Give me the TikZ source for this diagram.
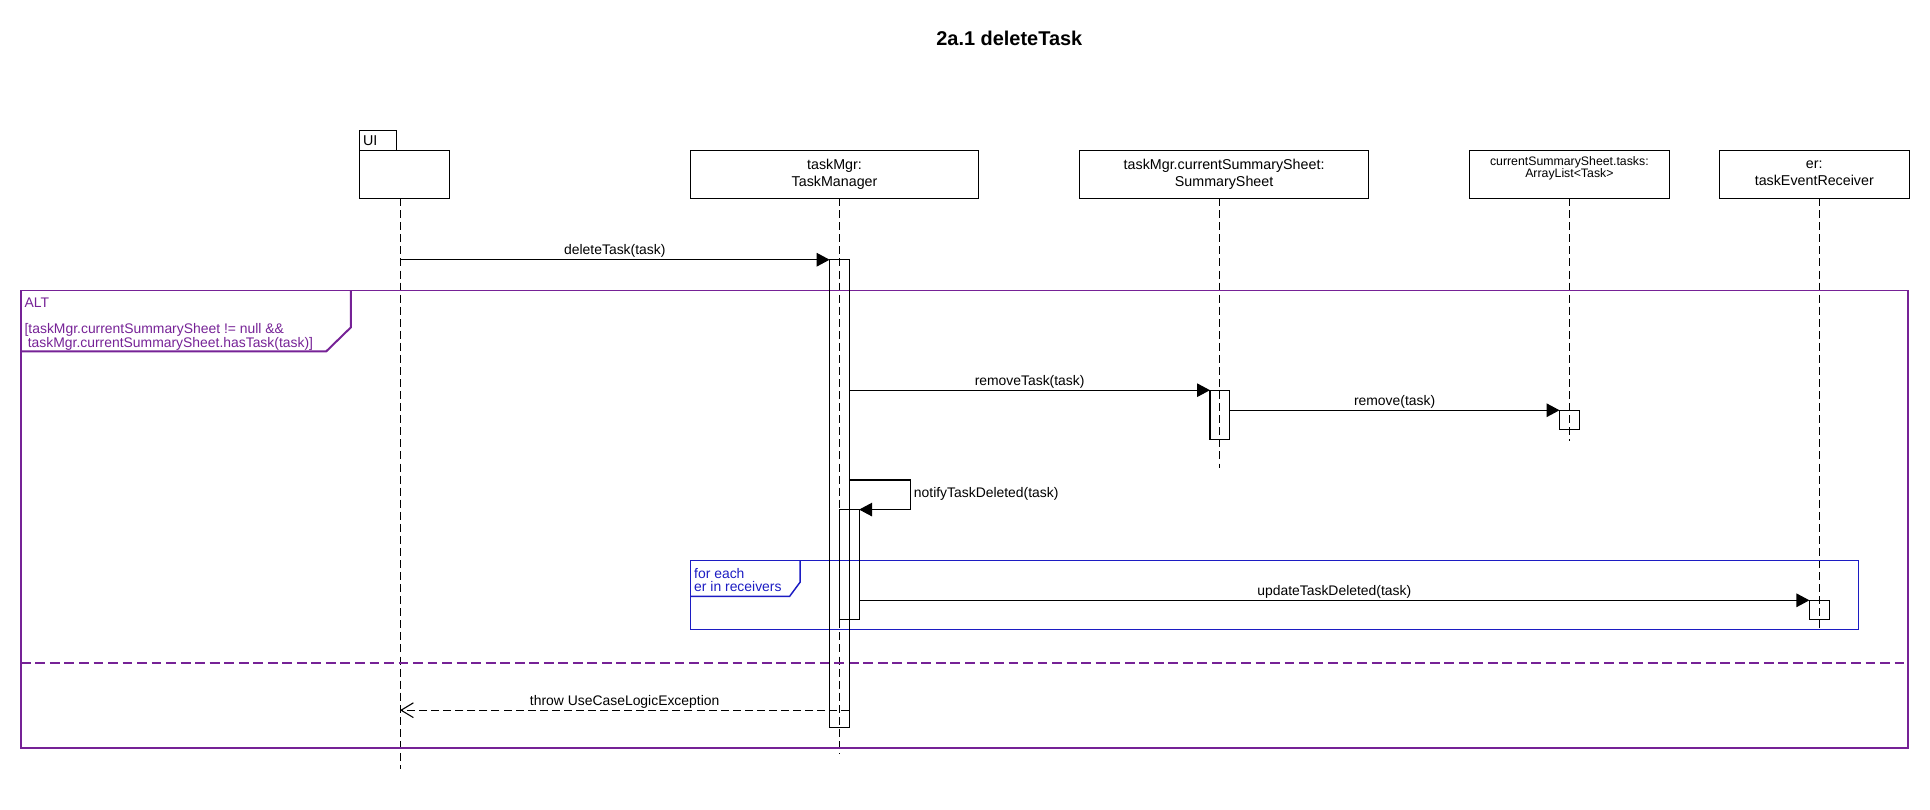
\documentclass[tikz,border=0pt]{standalone}
\usepackage{fontspec}
\setmainfont{Liberation Sans}
\usetikzlibrary{arrows.meta}
\definecolor{altpurple}{RGB}{118,34,150}
\definecolor{loopblue}{RGB}{28,28,195}
\begin{document}
\begin{tikzpicture}[x=1pt,y=-1pt,
  every node/.style={inner sep=0pt, outer sep=0pt},
  obj/.style={draw, line width=0.9pt, align=center, minimum height=39pt, anchor=north west, font=\fontsize{11.6}{13.8}\selectfont},
  smallobj/.style={obj, font=\fontsize{10}{10}\selectfont},
  lifeline/.style={line width=0.8pt, dash pattern=on 6.5pt off 3.3pt},
  act/.style={draw, line width=0.9pt, minimum width=16pt, anchor=north},
  msg/.style={line width=0.9pt, -{Triangle[length=10.5pt,width=11pt]}},
  retmsg/.style={line width=0.9pt, dash pattern=on 6.5pt off 3.3pt, -{Straight Barb[length=10pt,width=12pt]}},
  lbl/.style={font=\fontsize{11.3}{13}\selectfont, yshift=6.8pt},
  altframe/.style={draw=altpurple, line width=1.6pt},
  loopframe/.style={draw=loopblue, line width=1.2pt},
]
\useasboundingbox (0,0) rectangle (1568,658);

% title
\node[font=\bfseries\fontsize{16.2}{18}\selectfont] (title) at (820,31) {2a.1 deleteTask};

% participants
\node[obj, minimum width=30pt, minimum height=16pt] (uitab) at (292,106) {};
\node[anchor=west, font=\fontsize{11.6}{13}\selectfont] (uitabtxt) at (295,114) {UI};
\node[obj, minimum width=73pt] (ui) at (292,122) {};
\node[obj, minimum width=234pt] (tm) at (561,122) {taskMgr:\\TaskManager\vphantom{g}};
\node[obj, minimum width=235pt] (ss) at (877,122) {taskMgr.currentSummarySheet:\\SummarySheet\vphantom{g}};
\node[smallobj, minimum width=162pt] (tk) at (1194,122) {currentSummarySheet.tasks:\\ArrayList<Task>\\[2pt]\mbox{}};
\node[obj, minimum width=154pt] (er) at (1397,122) {er:\\taskEventReceiver\vphantom{g}};

% lifelines
\coordinate (uiL0) at (325,161);  \coordinate (uiL1) at (325,625);
\coordinate (tmL0) at (682,161);  \coordinate (tmL1) at (682,612);
\coordinate (ssL0) at (991,161);  \coordinate (ssL1) at (991,380);
\coordinate (tkL0) at (1275,161); \coordinate (tkL1) at (1275,358);
\coordinate (erL0) at (1478,161); \coordinate (erL1) at (1478,510);
\draw[lifeline] (uiL0) -- (uiL1);
\draw[lifeline] (tmL0) -- (tmL1);
\draw[lifeline] (ssL0) -- (ssL1);
\draw[lifeline] (tkL0) -- (tkL1);
\draw[lifeline] (erL0) -- (erL1);

% ALT frame
\node[altframe, minimum width=1533pt, minimum height=372pt, anchor=north west] (alt) at (17,236) {};
\coordinate (altA) at (285,236);
\coordinate (altB) at (285,266);
\coordinate (altC) at (265,285.5);
\coordinate (altD) at (17,285.5);
\draw[altframe, line join=miter] (altA) -- (altB) -- (altC) -- (altD);
\node[anchor=west, text=altpurple, font=\fontsize{11.3}{13}\selectfont] (alttxt) at (20,246) {ALT};
\node[anchor=west, align=left, text=altpurple, font=\fontsize{11.3}{11}\selectfont] (altcond) at (20,273.5)
  {[taskMgr.currentSummarySheet != null \&\&\\\hspace*{2.6pt}taskMgr.currentSummarySheet.hasTask(task)]};
\coordinate (sepL) at (17,539);
\coordinate (sepR) at (1550,539);
\draw[draw=altpurple, line width=1.6pt, dash pattern=on 8pt off 3.8pt] (sepL) -- (sepR);

% loop frame
\node[loopframe, minimum width=949pt, minimum height=56pt, anchor=north west] (loop) at (561,455.5) {};
\coordinate (lpA) at (650,455.5);
\coordinate (lpB) at (650,473);
\coordinate (lpC) at (641.5,484.5);
\coordinate (lpD) at (561,484.5);
\draw[loopframe] (lpA) -- (lpB) -- (lpC) -- (lpD);
\node[anchor=west, align=left, text=loopblue, font=\fontsize{11.3}{10.8}\selectfont] (looptxt) at (564,471.5)
  {for each\\er in receivers};

% activations
\node[act, minimum height=380pt] (a1) at (682,211) {};
\node[act, minimum height=40pt] (a2) at (991,317) {};
\node[act, minimum height=15.5pt] (a3) at (1275,333.3) {};
\node[act, minimum height=89pt] (a4) at (690,414) {};
\node[act, minimum height=15.5pt] (a5) at (1478,487.7) {};

% messages
\coordinate (m1s) at (325,211);
\draw[msg] (m1s) -- (a1.north west) node[midway, lbl] {deleteTask(task)};
\draw[msg] (a1.east |- a2.north) -- (a2.north west) node[midway, lbl] {removeTask(task)};
\draw[msg] (a2.east |- a3.north) -- (a3.north west) node[midway, lbl] {remove(task)};
\coordinate (self) at (740,390);
\draw[msg, line join=miter] (a1.east |- self) -- (self) -- (self |- a4.north) -- (a4.north east);
\node[anchor=west, font=\fontsize{11.3}{13}\selectfont] (selflbl) at (742.5,401) {notifyTaskDeleted(task)};
\draw[msg] (a4.east |- a5.north) -- (a5.north west) node[midway, lbl] {updateTaskDeleted(task)};
\coordinate (thr) at (0,577);
\draw[retmsg] (a1.east |- thr) -- (uiL0 |- thr) node[midway, lbl] {throw UseCaseLogicException};
\end{tikzpicture}
\end{document}
